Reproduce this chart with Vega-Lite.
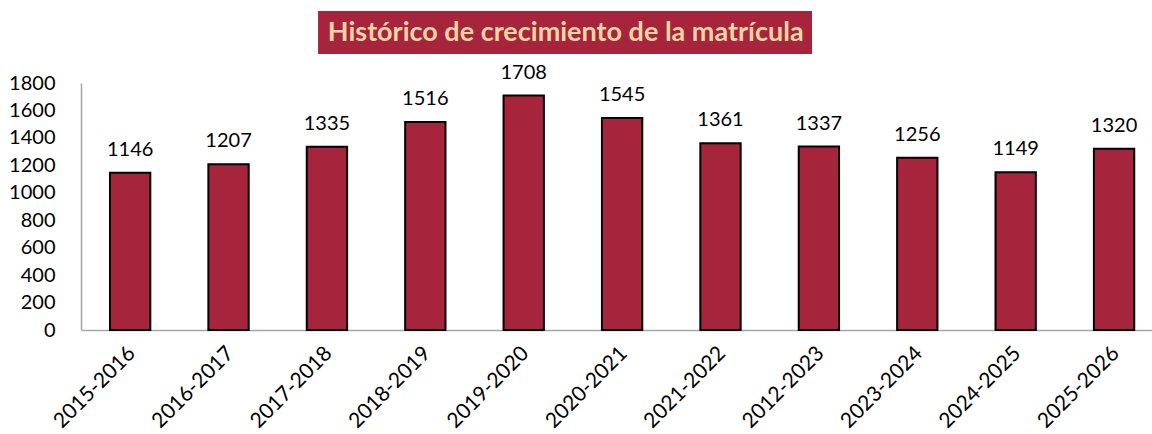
{
  "$schema": "https://vega.github.io/schema/vega-lite/v6.json",
  "width": 1071,
  "height": 247,
  "autosize": {"type": "none"},
  "padding": {"left": 81, "top": 83, "right": 0, "bottom": 104},
  "background": "white",
  "config": {
    "view": {"stroke": null},
    "font": "Lato",
    "axis": {"grid": false, "domainColor": "#A6A6A6", "domainWidth": 1.5, "ticks": false, "labelColor": "#000000", "labelFont": "Lato", "labelFontSize": 20, "title": null, "labelOverlap": false}
  },
  "datasets": {
    "bars": [
      {"ciclo": "2015-2016", "matricula": 1146},
      {"ciclo": "2016-2017", "matricula": 1207},
      {"ciclo": "2017-2018", "matricula": 1335},
      {"ciclo": "2018-2019", "matricula": 1516},
      {"ciclo": "2019-2020", "matricula": 1708},
      {"ciclo": "2020-2021", "matricula": 1545},
      {"ciclo": "2021-2022", "matricula": 1361},
      {"ciclo": "2012-2023", "matricula": 1337},
      {"ciclo": "2023-2024", "matricula": 1256},
      {"ciclo": "2024-2025", "matricula": 1149},
      {"ciclo": "2025-2026", "matricula": 1320}
    ],
    "titulo": [
      {"texto": "Histórico de crecimiento de la matrícula", "desde": "2017-2018", "hasta": "2012-2023", "centro": "2019-2020", "y0": 2011, "y1": 2325, "ym": 2168}
    ]
  },
  "layer": [
    {
      "data": {"name": "bars"},
      "mark": {"type": "bar", "color": "#A6243C", "stroke": "#000000", "strokeWidth": 2},
      "encoding": {
        "x": {
          "field": "ciclo", "type": "nominal", "sort": null,
          "scale": {"domain": ["2015-2016", "2016-2017", "2017-2018", "2018-2019", "2019-2020", "2020-2021", "2021-2022", "2012-2023", "2023-2024", "2024-2025", "2025-2026"], "paddingInner": 0.59, "paddingOuter": 0.2375, "align": 0.62},
          "axis": {"labelAngle": -45, "labelAlign": "right", "labelBaseline": "middle", "labelPadding": 20, "labelOffset": 2, "labelFontSize": 21}
        },
        "y": {
          "field": "matricula", "type": "quantitative",
          "scale": {"domain": [0, 1800], "nice": false},
          "axis": {"values": [0, 200, 400, 600, 800, 1000, 1200, 1400, 1600, 1800], "tickCount": 10, "format": "d", "labelPadding": 26, "labelOverlap": false, "labelFontSize": 20}
        }
      }
    },
    {
      "data": {"name": "bars"},
      "mark": {"type": "text", "baseline": "alphabetic", "dy": -17, "fontSize": 20, "color": "#000000", "font": "Lato"},
      "encoding": {
        "x": {"field": "ciclo", "type": "nominal", "sort": null},
        "y": {"field": "matricula", "type": "quantitative"},
        "text": {"field": "matricula", "type": "quantitative", "format": "d"}
      }
    },
    {
      "data": {"name": "titulo"},
      "mark": {"type": "rect", "color": "#A6243C", "clip": false},
      "encoding": {
        "x": {"field": "desde", "type": "nominal", "bandPosition": 0.28},
        "x2": {"field": "hasta", "bandPosition": 0.33},
        "y": {"field": "y0", "type": "quantitative"},
        "y2": {"field": "y1"}
      }
    },
    {
      "data": {"name": "titulo"},
      "mark": {"type": "text", "fontSize": 27, "fontWeight": "bold", "color": "#F2D4A4", "font": "Lato", "align": "center", "baseline": "middle", "dx": 42},
      "encoding": {
        "x": {"field": "centro", "type": "nominal", "bandPosition": 0.5},
        "y": {"field": "ym", "type": "quantitative"},
        "text": {"field": "texto", "type": "nominal"}
      }
    }
  ]
}
